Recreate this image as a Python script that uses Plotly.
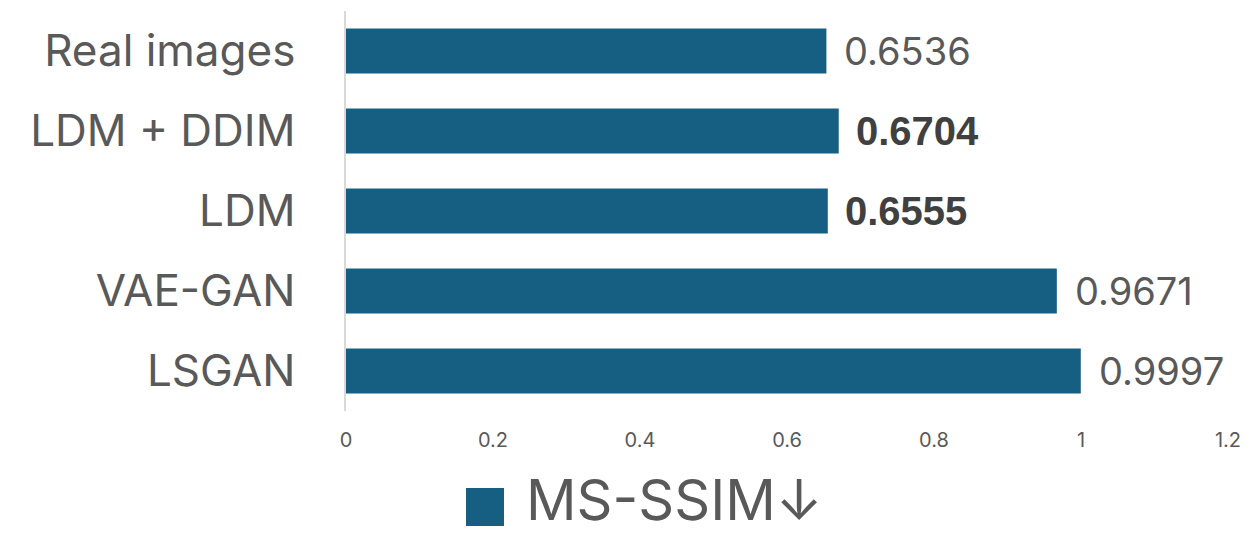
import plotly.graph_objects as go

# Methods (top to bottom) and their MS-SSIM scores
methods = ["Real images", "LDM + DDIM", "LDM", "VAE-GAN", "LSGAN"]
ms_ssim = [0.6536, 0.6704, 0.6555, 0.9671, 0.9997]
bold_labels = [False, True, True, False, False]

x_ticks = [0, 0.2, 0.4, 0.6, 0.8, 1, 1.2]
x_tick_text = ["0", "0.2", "0.4", "0.6", "0.8", "1", "1.2"]
series_name = "MS-SSIM↓"

BAR_COLOR = "#175f82"
TEXT_GRAY = "#595959"
BASE_FONT = "Inter, Roboto, sans-serif"

W, H = 1254, 534
M_L, M_R, M_T, M_B = 346, 26, 11, 123
plot_w = W - M_L - M_R
plot_h = H - M_T - M_B

fig = go.Figure()
fig.add_trace(go.Bar(
    x=ms_ssim,
    y=methods,
    orientation="h",
    marker=dict(color=BAR_COLOR, line=dict(width=0)),
    name=series_name,
    showlegend=False,
    hoverinfo="x+y",
))

# value labels just past each bar end
for m, v, b in zip(methods, ms_ssim, bold_labels):
    if b:
        font = dict(family="Liberation Sans, Arial, sans-serif", size=40, color="#404040")
        txt = f"<b>{v:.4f}</b>"
        shift = 15
    else:
        font = dict(family=BASE_FONT, size=38, color=TEXT_GRAY)
        txt = f"{v:.4f}"
        shift = 16
    fig.add_annotation(x=v, y=m, xref="x", yref="y", text=txt, showarrow=False,
                       xanchor="left", yanchor="middle", xshift=shift, font=font)

# legend: square swatch and series name below the axis
def px_x(p):
    return (p - M_L) / plot_w

def px_y(p):
    return (H - M_B - p) / plot_h

fig.add_shape(type="rect", xref="paper", yref="paper",
              x0=px_x(466), x1=px_x(504), y0=px_y(526), y1=px_y(488),
              fillcolor=BAR_COLOR, line=dict(width=0))
fig.add_annotation(xref="paper", yref="paper", x=px_x(524), y=px_y(500),
                   text=series_name, showarrow=False, xanchor="left", yanchor="middle",
                   font=dict(family=BASE_FONT, size=56, color=TEXT_GRAY))

fig.update_layout(
    width=W, height=H,
    margin=dict(l=M_L, r=M_R, t=M_T, b=M_B, pad=0),
    paper_bgcolor="white", plot_bgcolor="white",
    bargap=0.44,
    font=dict(family=BASE_FONT, color=TEXT_GRAY),
    xaxis=dict(range=[0, 1.2], tickvals=x_ticks, ticktext=x_tick_text,
               showgrid=False, zeroline=False, showline=False,
               tickfont=dict(size=20, color=TEXT_GRAY), ticklabelstandoff=15,
               fixedrange=True),
    yaxis=dict(categoryorder="array", categoryarray=methods, autorange="reversed",
               showgrid=False, zeroline=False, showline=True,
               linecolor="#d9d9d9", linewidth=1.5,
               tickfont=dict(size=44, color=TEXT_GRAY),
               ticklabelstandoff=40,
               fixedrange=True),
)

fig.write_html("out.html")
